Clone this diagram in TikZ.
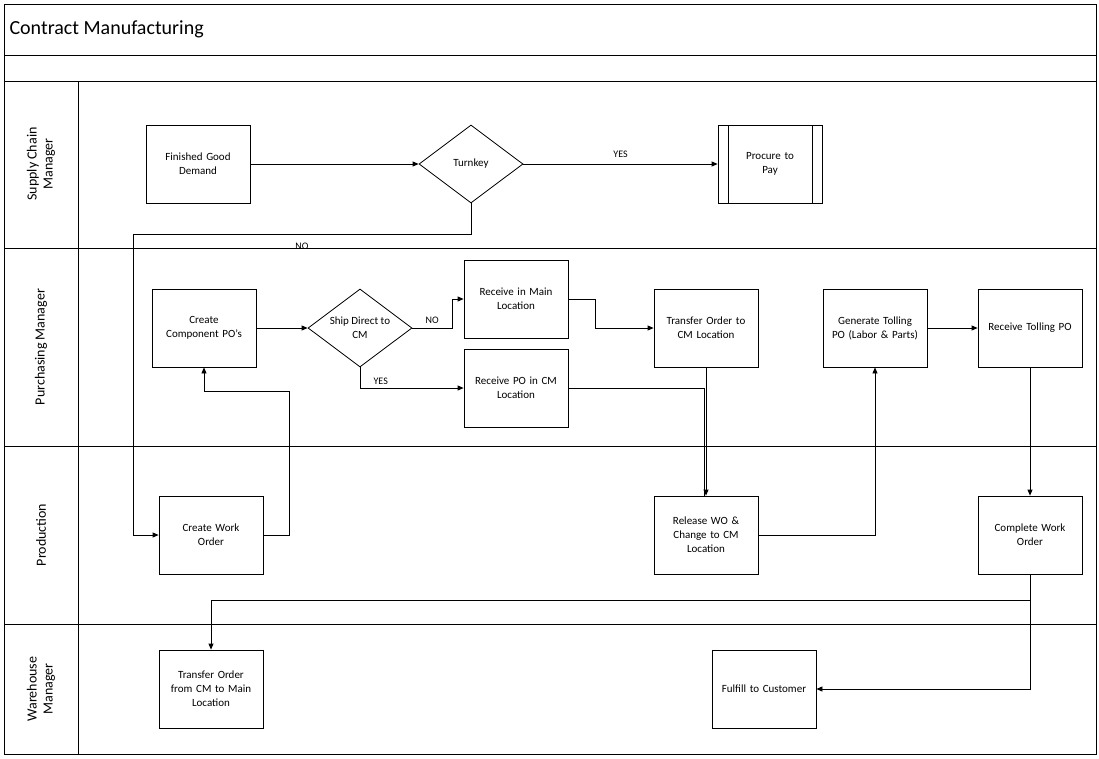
\documentclass[tikz,border=0pt]{standalone}
\usepackage{fontspec}
\setmainfont{Carlito}
\usetikzlibrary{shapes.geometric,arrows.meta,shapes.multipart}
\begin{document}
\begin{tikzpicture}[x=1pt,y=-1pt,
  box/.style={draw,line width=0.8pt,minimum width=104pt,minimum height=78pt,align=center,font=\fontsize{11}{14}\selectfont,inner sep=1pt,text width=100pt},
  dia/.style={draw,diamond,line width=0.8pt,minimum width=104pt,minimum height=78pt,aspect=1.33,inner sep=0pt,align=center,font=\fontsize{11}{14}\selectfont},
  arr/.style={line width=0.8pt,-{Triangle[length=6pt,width=5pt]}},
  ln/.style={line width=0.8pt},
  lane/.style={rotate=90,align=center,font=\fontsize{14}{16}\selectfont},
  lbl/.style={font=\fontsize{10}{12}\selectfont}]
\useasboundingbox (0,0) rectangle (1099,758);
\draw[ln] (4,4) rectangle (1096,754);
\draw[ln] (4,55) -- (1096,55);
\draw[ln] (4,81) -- (1096,81);
\draw[ln] (4,248) -- (1096,248);
\draw[ln] (4,446) -- (1096,446);
\draw[ln] (4,624) -- (1096,624);
\draw[ln] (78,81) -- (78,754);
\node[anchor=west,font=\fontsize{20}{24}\selectfont] (title) at (6,29) {Contract Manufacturing};
\node[lane] (l1) at (41,164) {Supply Chain\\Manager};
\node[lane] (l2) at (41,347) {Purchasing Manager};
\node[lane] (l3) at (41,535) {Production};
\node[lane] (l4) at (41,689) {Warehouse\\Manager};

\node[box] (fgd) at (198,164) {Finished Good\\Demand};
\node[dia] (tk) at (471,164) {Turnkey};
\node[box] (ptp) at (770,164) {Procure to\\Pay};
\draw[ln] (728,125) -- (728,203) (812,125) -- (812,203);
\node[box] (ccpo) at (204,328) {Create\\Component PO’s};
\node[dia] (sd) at (360,328) {Ship Direct to\\CM};
\node[box] (rml) at (516,299) {Receive in Main\\Location};
\node[box] (rpo) at (516,388) {Receive PO in CM\\Location};
\node[box] (to) at (706,328) {Transfer Order to\\CM Location};
\node[box] (gt) at (875,328) {Generate Tolling\\PO (Labor \& Parts)};
\node[box] (rt) at (1030,328) {Receive Tolling PO};
\node[box] (cwo) at (211,535) {Create Work\\Order};
\node[box] (rwo) at (706,535) {Release WO \&\\Change to CM\\Location};
\node[box] (comp) at (1030,535) {Complete Work\\Order};
\node[box] (tcm) at (211,689) {Transfer Order\\from CM to Main\\Location};
\node[box] (ful) at (764,689) {Fulfill to Customer};

\draw[arr] (fgd.east) -- (tk.west);
\draw[arr] (tk.east) -- node[lbl,above=3pt] {YES} (ptp.west);
\draw[arr] (tk.south) |- (133,234) node[lbl,pos=0.75,below=5pt] {NO} -- (133,535) -- (cwo.west);
\draw[arr] (ccpo.east) -- (sd.west);
\draw[arr] (sd.east) -| (452,299) node[lbl,pos=0.3,above=1pt,xshift=-4pt] {NO} -- (rml.west);
\draw[arr] (sd.south) |- (rpo.west) node[lbl,pos=0.6,above] {YES};
\draw[arr] (rml.east) -| (595,328) -- (to.west);
\draw[arr] (to.south) -- (rwo.north);
\draw[ln] (rpo.east) -| (704,496);
\draw[arr] (cwo.east) -| (289,391) -| (ccpo.south);
\draw[arr] (rwo.east) -| (gt.south);
\draw[arr] (gt.east) -- (rt.west);
\draw[arr] (rt.south) -- (comp.north);
\coordinate (j) at (1030,600);
\draw[arr] (comp.south) -- (j) -| (tcm.north);
\draw[arr] (j) |- (ful.east);
\end{tikzpicture}
\end{document}
